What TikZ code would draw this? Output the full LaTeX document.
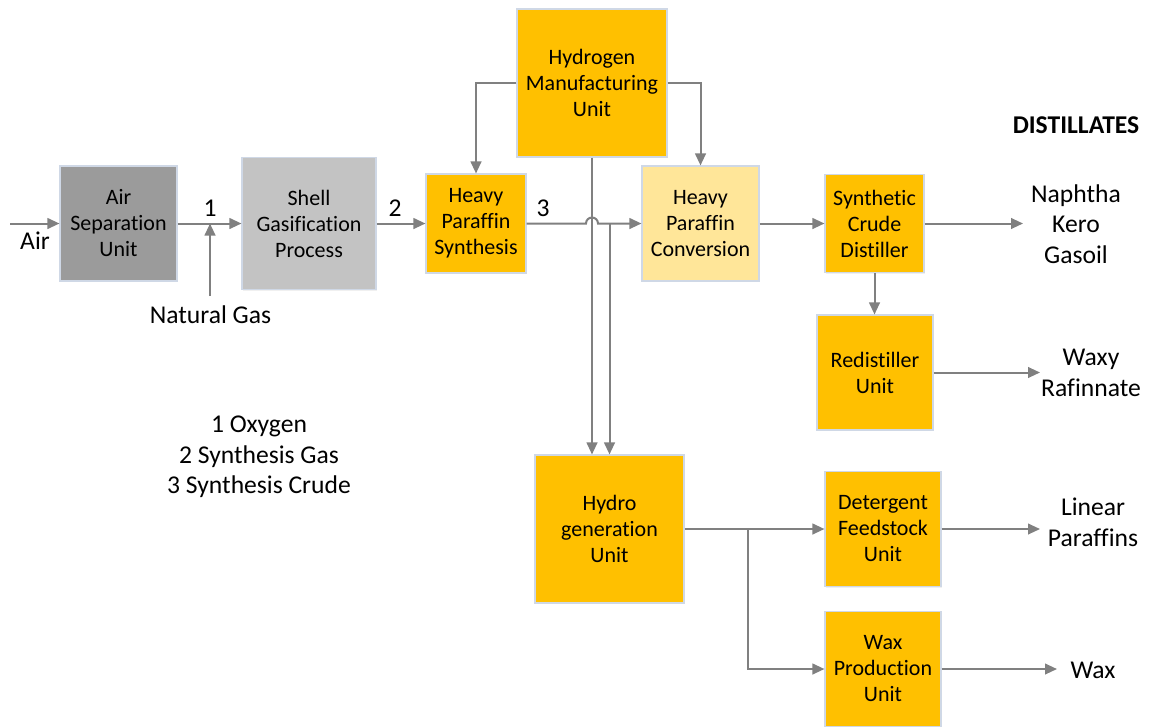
\documentclass[tikz,border=0pt]{standalone}
\usepackage{fontspec}
\setmainfont{Carlito}[Ligatures=NoCommon]
\usetikzlibrary{arrows.meta,shadows,calc}

\definecolor{amber}{HTML}{FFC000}
\definecolor{paleamber}{HTML}{FFE699}
\definecolor{darkgrey}{HTML}{9B9B9B}
\definecolor{lightgrey}{HTML}{C3C3C3}
\definecolor{linegrey}{HTML}{808080}
\definecolor{edgeblue}{HTML}{CFD8E6}

\begin{document}
\begin{tikzpicture}[x=0.75pt,y=-0.75pt,
  unit/.style={draw=edgeblue, line width=0.8pt, fill=amber, align=center,
    inner sep=0pt, font=\fontsize{16.5}{19.5}\selectfont,
    drop shadow={shadow xshift=1pt, shadow yshift=-1pt, opacity=0.12}},
  boxsize/.style 2 args={minimum width=#1*0.75pt, minimum height=#2*0.75pt},
  pipe/.style={draw=linegrey, line width=1.5pt},
  flow/.style={pipe, -{Triangle[length=9pt,width=8pt]}},
  tag/.style={align=center, inner sep=0pt, font=\fontsize{19.2}{23}\selectfont},
]
\useasboundingbox (0,0) rectangle (1152,726);

% process units
\node[unit, fill=darkgrey, boxsize={117}{115}] (asu) at (118.5,223.5) {Air\\Separation\\Unit};
\node[unit, fill=lightgrey, boxsize={134}{132}] (sgp) at (309,223.5) {Shell\\Gasification\\Process};
\node[unit, boxsize={100}{99}] (hps) at (476,223.5) {Heavy\\Paraffin\\Synthesis};
\node[unit, boxsize={150}{148}] (hmu) at (592,83) {Hydrogen\\Manufacturing\\Unit};
\node[unit, fill=paleamber, boxsize={117}{115}] (hpc) at (700.5,223.5) {Heavy\\Paraffin\\Conversion};
\node[unit, boxsize={99}{98}] (scd) at (874.5,223.5) {Synthetic\\Crude\\Distiller};
\node[unit, boxsize={116}{115}] (rdu) at (875,372.5) {Redistiller\\Unit};
\node[unit, boxsize={149}{148}] (hgu) at (609.5,529) {Hydro\\generation\\Unit};
\node[unit, boxsize={116}{115}] (dfu) at (883,529) {Detergent\\Feedstock\\Unit};
\node[unit, boxsize={116}{115}] (wpu) at (883,669) {Wax\\Production\\Unit};

% feeds
\coordinate (airIn) at (10,223.5);
\coordinate (ngIn) at (210,296);
\draw[flow] (airIn) -- (asu.west);
\node[tag] (airTxt) at (35,241) {Air};
\draw[flow] (asu.east) -- (sgp.west);
\draw[flow] (ngIn) -- (ngIn |- asu.east);
\node[tag] (ngTxt) at (210.5,315) {Natural Gas};
\node[tag] (n1) at (210,208) {1};

\draw[flow] (sgp.east) -- (hps.west);
\node[tag] (n2) at (395,208) {2};

% hydrogen supply
\draw[flow] (hmu.west) -| (hps.north);
\draw[flow] (hmu.east) -| (hpc.north);

% synthesis crude line, hopping over the hydrogen line
\draw[flow] (hps.east) -- ($(hmu.south |- hps.east)+(-6,0)$)
  arc[start angle=180, end angle=0, radius=4.5pt] -- (hpc.west);
\node[tag] (n3) at (543,208) {3};
\draw[flow] (hmu.south) -- (hmu.south |- hgu.north);
\draw[flow] (hgu.north |- hps.east) -- (hgu.north);

% distillation
\draw[flow] (hpc.east) -- (scd.west);
\draw[flow] (scd.south) -- (scd.south |- rdu.north);
\coordinate (distOut) at (1023,223.5);
\draw[flow] (scd.east) -- (distOut);
\node[tag, font=\fontsize{19.2}{23}\selectfont\bfseries] (distTitle) at (1076,125) {DISTILLATES};
\node[tag] (distTxt) at (1076,224) {Naphtha\\Kero\\Gasoil};

\coordinate (rafOut) at (1040,372.5);
\draw[flow] (rdu.east) -- (rafOut);
\node[tag] (rafTxt) at (1091,373) {Waxy\\Rafinnate};

% hydrogenation products
\coordinate (split) at (748,529);
\draw[flow] (hgu.east) -- (dfu.west);
\draw[flow] (split) |- (wpu.west);
\coordinate (linOut) at (1040,529);
\draw[flow] (dfu.east) -- (linOut);
\node[tag] (linTxt) at (1093,522) {Linear\\Paraffins};
\coordinate (waxOut) at (1057,669);
\draw[flow] (wpu.east) -- (waxOut);
\node[tag] (waxTxt) at (1093,670) {Wax};

% stream legend
\node[tag] (legend) at (259,457) {1 Oxygen\\2 Synthesis Gas\\3 Synthesis Crude};
\end{tikzpicture}
\end{document}
